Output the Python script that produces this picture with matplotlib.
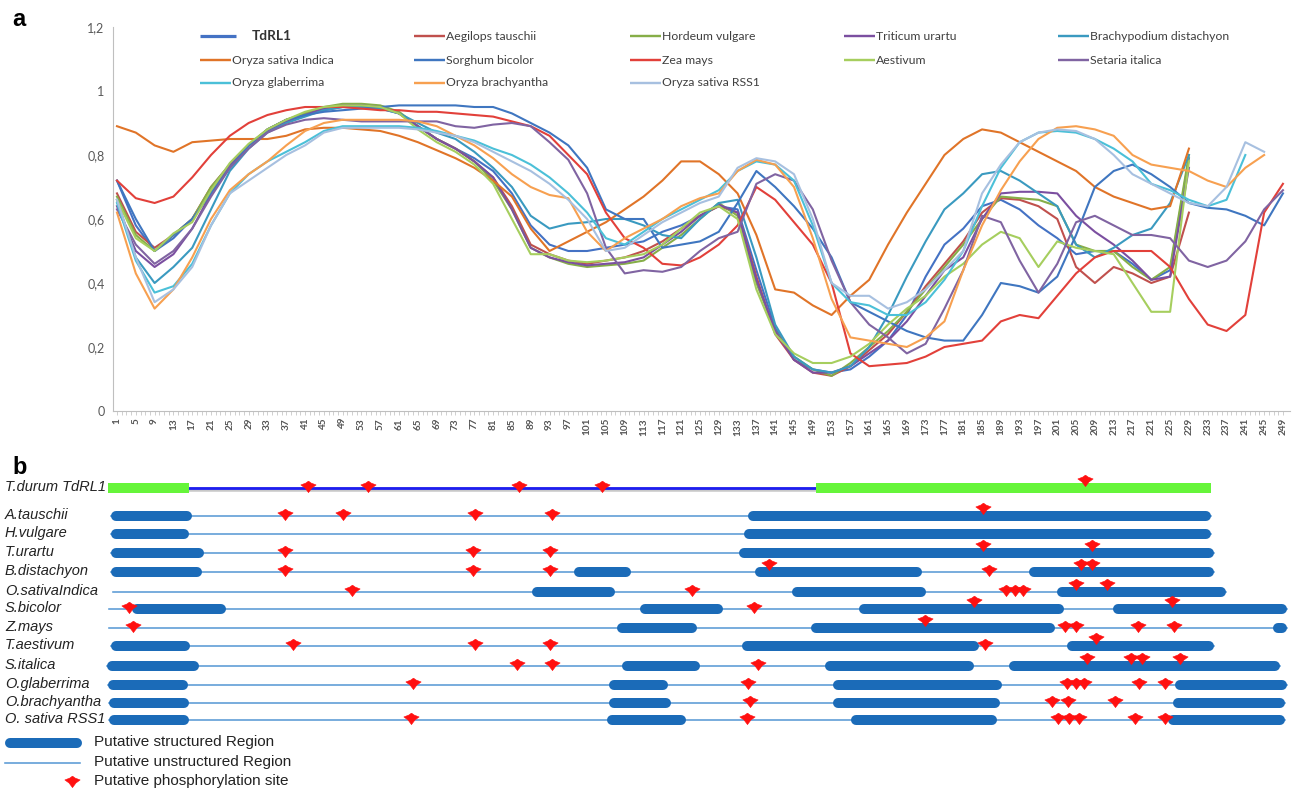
#!/usr/bin/env python3
"""
Disorder profiles of TdRL1 and its homologues (a) and domain map (b).
"""

import numpy as np
import matplotlib.pyplot as plt

nan = np.nan

# ---- panel a: disorder score per residue window ----
positions = list(range(1, 250, 4))
y_ticks = [0, 0.2, 0.4, 0.6, 0.8, 1.0, 1.2]
y_tick_labels = ['0', '0,2', '0,4', '0,6', '0,8', '1', '1,2']

tdrl1 = [0.72, 0.58, 0.50, 0.54, 0.60, 0.69, 0.77, 0.83, 0.875,
         0.905, 0.925, 0.94, 0.95, 0.95, 0.945, 0.93, 0.89, 0.85,
         0.82, 0.79, 0.75, 0.68, 0.58, 0.52, 0.50, 0.50, 0.51,
         0.52, 0.53, 0.56, 0.58, 0.61, 0.64, 0.63, 0.44, 0.26,
         0.16, 0.13, 0.12, 0.13, 0.17, 0.22, 0.30, 0.42, 0.52,
         0.57, 0.64, 0.66, 0.63, 0.58, 0.54, 0.49, 0.50, 0.50,
         0.46, 0.41, 0.44, 0.79, nan, nan, nan, nan, nan]
aegilops = [0.68, 0.56, 0.51, 0.55, 0.60, 0.70, 0.77, 0.83, 0.88,
            0.91, 0.93, 0.945, 0.955, 0.955, 0.95, 0.93, 0.89, 0.85,
            0.82, 0.78, 0.73, 0.64, 0.52, 0.49, 0.47, 0.46, 0.47,
            0.48, 0.50, 0.53, 0.57, 0.61, 0.64, 0.62, 0.42, 0.24,
            0.16, 0.12, 0.11, 0.14, 0.19, 0.24, 0.31, 0.39, 0.46,
            0.53, 0.62, 0.665, 0.66, 0.64, 0.60, 0.45, 0.40, 0.45,
            0.43, 0.40, 0.42, 0.62, nan, nan, nan, nan, nan]
hordeum = [0.67, 0.55, 0.50, 0.55, 0.60, 0.70, 0.77, 0.83, 0.88,
           0.91, 0.93, 0.95, 0.96, 0.96, 0.955, 0.935, 0.89, 0.85,
           0.82, 0.78, 0.72, 0.63, 0.51, 0.48, 0.46, 0.45, 0.455,
           0.46, 0.47, 0.51, 0.55, 0.60, 0.65, 0.61, 0.40, 0.25,
           0.17, 0.13, 0.11, 0.15, 0.20, 0.25, 0.31, 0.38, 0.45,
           0.52, 0.60, 0.67, 0.665, 0.66, 0.64, 0.52, 0.50, 0.50,
           0.45, 0.41, 0.45, 0.80, nan, nan, nan, nan, nan]
triticum = [0.64, 0.50, 0.45, 0.49, 0.57, 0.68, 0.77, 0.83, 0.875,
            0.905, 0.925, 0.945, 0.955, 0.955, 0.95, 0.93, 0.89, 0.85,
            0.82, 0.78, 0.73, 0.63, 0.51, 0.48, 0.465, 0.455, 0.46,
            0.465, 0.48, 0.52, 0.56, 0.61, 0.645, 0.62, 0.41, 0.25,
            0.16, 0.12, 0.12, 0.14, 0.18, 0.22, 0.28, 0.36, 0.44,
            0.48, 0.60, 0.68, 0.685, 0.685, 0.68, 0.61, 0.56, 0.52,
            0.47, 0.41, 0.42, 0.76, nan, nan, nan, nan, nan]
brachypodium = [0.66, 0.48, 0.40, 0.45, 0.51, 0.63, 0.75, 0.82, 0.87,
                0.90, 0.92, 0.94, 0.95, 0.95, 0.945, 0.93, 0.90, 0.87,
                0.85, 0.81, 0.76, 0.70, 0.61, 0.57, 0.585, 0.59, 0.60,
                0.60, 0.58, 0.55, 0.54, 0.60, 0.65, 0.66, 0.48, 0.27,
                0.17, 0.13, 0.12, 0.14, 0.20, 0.30, 0.42, 0.53, 0.63,
                0.68, 0.74, 0.75, 0.72, 0.68, 0.64, 0.52, 0.48, 0.51,
                0.55, 0.57, 0.65, 0.80, nan, nan, nan, nan, nan]
indica = [0.89, 0.87, 0.83, 0.81, 0.84, 0.845, 0.85, 0.85, 0.85,
          0.86, 0.88, 0.885, 0.885, 0.88, 0.875, 0.86, 0.84, 0.815,
          0.79, 0.76, 0.72, 0.67, 0.57, 0.50, 0.53, 0.56, 0.59,
          0.63, 0.67, 0.72, 0.78, 0.78, 0.74, 0.68, 0.55, 0.38,
          0.37, 0.33, 0.30, 0.36, 0.41, 0.52, 0.62, 0.71, 0.80,
          0.85, 0.88, 0.87, 0.84, 0.81, 0.78, 0.75, 0.70, 0.67,
          0.65, 0.63, 0.64, 0.82, nan, nan, nan, nan, nan]
sorghum = [0.72, 0.60, 0.50, 0.55, 0.60, 0.68, 0.76, 0.83, 0.88,
           0.91, 0.925, 0.935, 0.94, 0.945, 0.95, 0.955, 0.955, 0.955,
           0.955, 0.95, 0.95, 0.93, 0.90, 0.87, 0.83, 0.76, 0.63,
           0.60, 0.60, 0.51, 0.52, 0.53, 0.56, 0.65, 0.75, 0.70,
           0.64, 0.57, 0.48, 0.34, 0.31, 0.28, 0.25, 0.23, 0.22,
           0.22, 0.30, 0.40, 0.39, 0.37, 0.42, 0.55, 0.70, 0.75,
           0.77, 0.74, 0.70, 0.65, 0.635, 0.63, 0.61, 0.58, 0.68]
zea = [0.72, 0.665, 0.65, 0.67, 0.73, 0.80, 0.86, 0.90, 0.925,
       0.94, 0.95, 0.95, 0.95, 0.945, 0.94, 0.94, 0.935, 0.935,
       0.93, 0.925, 0.92, 0.905, 0.89, 0.86, 0.80, 0.74, 0.62,
       0.54, 0.51, 0.46, 0.455, 0.48, 0.52, 0.58, 0.70, 0.66,
       0.59, 0.52, 0.40, 0.18, 0.14, 0.145, 0.15, 0.17, 0.20,
       0.21, 0.22, 0.28, 0.30, 0.29, 0.36, 0.43, 0.48, 0.50,
       0.50, 0.50, 0.45, 0.35, 0.27, 0.25, 0.30, 0.62, 0.71]
aestivum = [0.66, 0.54, 0.50, 0.555, 0.59, 0.69, 0.775, 0.835, 0.88,
            0.91, 0.935, 0.95, 0.955, 0.955, 0.95, 0.93, 0.88, 0.84,
            0.81, 0.77, 0.71, 0.60, 0.49, 0.49, 0.47, 0.465, 0.47,
            0.48, 0.49, 0.52, 0.57, 0.62, 0.64, 0.60, 0.38, 0.24,
            0.18, 0.15, 0.15, 0.17, 0.21, 0.27, 0.32, 0.36, 0.42,
            0.46, 0.52, 0.56, 0.54, 0.45, 0.53, 0.51, 0.50, 0.49,
            0.40, 0.31, 0.31, 0.78, nan, nan, nan, nan, nan]
setaria = [0.63, 0.52, 0.46, 0.50, 0.57, 0.67, 0.76, 0.82, 0.87,
           0.895, 0.91, 0.915, 0.91, 0.905, 0.905, 0.905, 0.905, 0.905,
           0.89, 0.885, 0.895, 0.90, 0.89, 0.84, 0.785, 0.68, 0.51,
           0.43, 0.44, 0.435, 0.45, 0.50, 0.54, 0.56, 0.71, 0.74,
           0.72, 0.63, 0.47, 0.34, 0.27, 0.23, 0.18, 0.21, 0.32,
           0.44, 0.61, 0.59, 0.47, 0.37, 0.46, 0.59, 0.61, 0.58,
           0.55, 0.55, 0.54, 0.47, 0.45, 0.47, 0.53, 0.63, 0.69]
glaberrima = [0.65, 0.47, 0.37, 0.39, 0.46, 0.58, 0.68, 0.74, 0.78,
              0.81, 0.84, 0.875, 0.89, 0.89, 0.89, 0.89, 0.885, 0.875,
              0.86, 0.845, 0.82, 0.80, 0.77, 0.73, 0.68, 0.62, 0.54,
              0.52, 0.56, 0.60, 0.63, 0.66, 0.69, 0.75, 0.78, 0.77,
              0.72, 0.58, 0.40, 0.34, 0.33, 0.30, 0.30, 0.34, 0.41,
              0.50, 0.64, 0.76, 0.84, 0.87, 0.875, 0.87, 0.85, 0.82,
              0.78, 0.71, 0.69, 0.66, 0.64, 0.66, 0.80, nan, nan]
brachyantha = [0.62, 0.43, 0.32, 0.38, 0.48, 0.60, 0.69, 0.74, 0.78,
               0.83, 0.875, 0.90, 0.91, 0.91, 0.91, 0.91, 0.905, 0.89,
               0.86, 0.83, 0.79, 0.74, 0.70, 0.675, 0.665, 0.56, 0.50,
               0.54, 0.57, 0.60, 0.64, 0.665, 0.68, 0.75, 0.785, 0.77,
               0.70, 0.54, 0.35, 0.23, 0.22, 0.21, 0.20, 0.23, 0.28,
               0.44, 0.58, 0.69, 0.78, 0.85, 0.885, 0.89, 0.88, 0.86,
               0.80, 0.77, 0.76, 0.75, 0.72, 0.70, 0.76, 0.80, nan]
rss1 = [0.66, 0.48, 0.34, 0.38, 0.45, 0.58, 0.68, 0.72, 0.76,
        0.80, 0.83, 0.87, 0.885, 0.885, 0.885, 0.885, 0.88, 0.87,
        0.86, 0.84, 0.81, 0.78, 0.75, 0.71, 0.66, 0.60, 0.50,
        0.51, 0.55, 0.59, 0.62, 0.65, 0.67, 0.76, 0.79, 0.78,
        0.74, 0.60, 0.40, 0.36, 0.36, 0.32, 0.34, 0.38, 0.44,
        0.50, 0.68, 0.77, 0.84, 0.87, 0.88, 0.875, 0.85, 0.80,
        0.74, 0.71, 0.68, 0.65, 0.64, 0.70, 0.84, 0.81, nan]

series_names = ['TdRL1', 'Aegilops tauschii', 'Hordeum vulgare', 'Triticum urartu',
                'Brachypodium distachyon', 'Oryza sativa Indica', 'Sorghum bicolor',
                'Zea mays', 'Aestivum', 'Setaria italica', 'Oryza glaberrima',
                'Oryza brachyantha', 'Oryza sativa RSS1']
series_values = [tdrl1, aegilops, hordeum, triticum, brachypodium, indica, sorghum,
                 zea, aestivum, setaria, glaberrima, brachyantha, rss1]
series_colors = ['#4472C4', '#C0504D', '#86AE48', '#7B4FA0', '#3A9AC0', '#E07428',
                 '#3F76C0', '#E2403A', '#A6CE5E', '#8064A2', '#4BC0D8', '#F7A050',
                 '#A7C0E0']

# ---- panel b: domain map ----
species = ['T.durum TdRL1', 'A.tauschii', 'H.vulgare', 'T.urartu', 'B.distachyon',
           'O.sativaIndica', 'S.bicolor', 'Z.mays', 'T.aestivum', 'S.italica',
           'O.glaberrima', 'O.brachyantha', 'O. sativa RSS1']
structured = [
    [(108, 189), (816, 1211)],
    [(111, 192), (748, 1211)],
    [(111, 189), (744, 1211)],
    [(111, 204), (739, 1214)],
    [(111, 202), (574, 631), (755, 922), (1029, 1214)],
    [(532, 615), (792, 926), (1057, 1226)],
    [(132, 226), (640, 723), (859, 1064), (1113, 1287)],
    [(617, 697), (811, 1055), (1273, 1287)],
    [(111, 190), (742, 979), (1067, 1214)],
    [(107, 199), (622, 700), (825, 974), (1009, 1280)],
    [(108, 188), (609, 668), (833, 1002), (1175, 1287)],
    [(109, 189), (609, 671), (833, 1000), (1173, 1285)],
    [(109, 189), (607, 686), (851, 997), (1168, 1285)],
]
unstructured = [(189, 816), (111, 1211), (111, 1211), (111, 1214), (111, 1214),
                (113, 1226), (109, 1287), (109, 1287), (111, 1214), (107, 1280),
                (108, 1287), (109, 1285), (109, 1285)]
sites = [
    [308, 368, 519, 602, 1085],
    [285, 343, 475, 552, 983],
    [],
    [285, 473, 550, 983, 1092],
    [285, 473, 550, 769, 989, 1081, 1092],
    [352, 692, 1006, 1015, 1023, 1076, 1107],
    [129, 754, 974, 1172],
    [133, 925, 1065, 1076, 1138, 1174],
    [293, 475, 550, 985, 1096],
    [517, 552, 758, 1087, 1131, 1142, 1180],
    [413, 748, 1067, 1076, 1084, 1139, 1165],
    [750, 1052, 1068, 1115],
    [411, 747, 1058, 1069, 1079, 1135, 1165],
]

# wide red marker with a point at the bottom, like the phospho-site glyph
site_marker = [(0, 0.7), (0.35, 0.45), (1.0, 0.2), (0.45, -0.2), (0, -0.8),
               (-0.45, -0.2), (-1.0, 0.2), (-0.35, 0.45), (0, 0.7)]


def px(v):
    """pixel -> points at 100 dpi"""
    return v * 0.72


W, H = 1298, 791
fig = plt.figure(figsize=(W / 100, H / 100), dpi=100)
fig.patch.set_facecolor('white')

# panel a plot
ax = fig.add_axes([113 / W, 1 - 411 / H, (1290 - 113) / W, (411 - 27) / H])
for vals, color in zip(series_values, series_colors):
    ax.plot(positions, vals, color=color, lw=1.5, solid_joinstyle='round')

ax.set_xlim(0.15, 250.5)
ax.set_ylim(0, 1.2)
ax.set_yticks(y_ticks)
ax.set_yticklabels(y_tick_labels, fontsize=9, color='#595959', family=['Lato', 'DejaVu Sans'])
ax.set_xticks(positions)
ax.set_xticklabels([str(p) for p in positions], rotation=90, fontsize=7.2,
                   fontweight='bold', color='#555555', family=['Lato', 'DejaVu Sans'])
ax.set_xticks(range(1, 250), minor=True)
ax.tick_params(axis='x', which='both', length=3, color='#C8C8C8', width=0.6, pad=2)
ax.tick_params(axis='y', length=0, pad=6)
for side in ['top', 'right']:
    ax.spines[side].set_visible(False)
ax.spines['left'].set_color('#BFBFBF')
ax.spines['bottom'].set_color('#BFBFBF')

# overlay in pixel coordinates for legends and panel b
ov = fig.add_axes([0, 0, 1, 1], zorder=5)
ov.set_xlim(0, W)
ov.set_ylim(H, 0)
ov.axis('off')

ov.text(12, 19, 'a', fontsize=17, fontweight='bold', va='center', family='Liberation Sans')
ov.text(12, 467, 'b', fontsize=17, fontweight='bold', va='center', family='Liberation Sans')

# panel a legend (5 columns, filled row by row)
col_line = [200, 414, 630, 844, 1058]
row_y = [36, 60, 83]
for i, (name, color) in enumerate(zip(series_names, series_colors)):
    r, c = divmod(i, 5)
    x0 = col_line[c]
    y0 = row_y[r]
    if i == 0:
        ov.plot([x0, x0 + 36], [y0, y0], color=color, lw=px(3.2), solid_capstyle='butt')
        ov.text(x0 + 52, y0, name, fontsize=9.8, fontweight='bold', va='center',
                color='#333333', family=['Lato', 'DejaVu Sans'])
    else:
        ov.plot([x0, x0 + 31], [y0, y0], color=color, lw=px(2.4), solid_capstyle='butt')
        ov.text(x0 + 32, y0, name, fontsize=8.8, va='center', color='#404040',
                family=['Lato', 'DejaVu Sans'])

# panel b rows
b_rows = [488, 516, 534, 553, 572, 592, 609, 628, 646, 666, 685, 703, 720]
bar_px = 10
for i, name in enumerate(species):
    y = b_rows[i]
    ov.text(5, y - 1, name, fontsize=10.5, style='italic', va='center', color='#222222',
            family=['Liberation Sans', 'DejaVu Sans'])
    u0, u1 = unstructured[i]
    if i == 0:
        ov.plot([u0, u1], [y + 0.5, y + 0.5], color='#C8C8C8', lw=px(4.5), zorder=1)
        ov.plot([u0, u1], [y - 0.5, y - 0.5], color='#1E1EF0', lw=px(2.8), zorder=2)
        for s0, s1 in structured[i]:
            ov.plot([s0, s1], [y, y], color='#66F53A', lw=px(10), solid_capstyle='butt', zorder=3)
    else:
        ov.plot([u0, u1], [y, y], color='#5B9BD5', lw=px(1.6), zorder=1)
        for s0, s1 in structured[i]:
            half = min(bar_px / 2, (s1 - s0) / 2 - 0.5)
            ov.plot([s0 + half, s1 - half], [y, y], color='#1B6BB8', lw=px(bar_px),
                    solid_capstyle='round', zorder=3)
    for s in sites[i]:
        inside = any(s0 <= s <= s1 for s0, s1 in structured[i])
        dy = -8 if inside else -2
        ov.plot(s, y + dy, marker=site_marker, markersize=11, color='#FF1010',
                markeredgewidth=0.4, zorder=4)

# panel b legend
ov.plot([5 + 5, 82 - 5], [743, 743], color='#1B6BB8', lw=px(10), solid_capstyle='round')
ov.plot([5, 80], [763, 763], color='#5B9BD5', lw=px(1.6))
ov.plot(72, 781, marker=site_marker, markersize=11, color='#FF1010', markeredgewidth=0.4)
legend_texts = ['Putative structured Region', 'Putative unstructured Region',
                'Putative phosphorylation site']
for t, y in zip(legend_texts, [742, 762, 781]):
    ov.text(94, y, t, fontsize=11, va='center', color='#222222',
            family=['Liberation Sans', 'DejaVu Sans'])

fig.savefig('out.png', dpi=100)
